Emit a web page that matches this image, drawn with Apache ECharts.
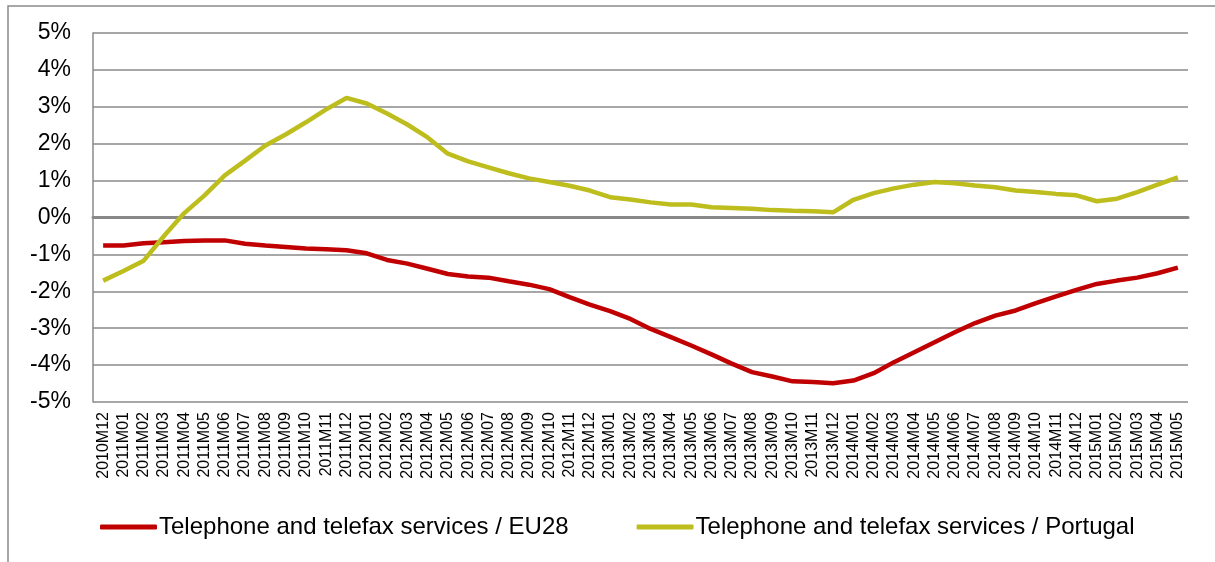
<!DOCTYPE html>
<html>
<head>
<meta charset="utf-8">
<script src="https://cdn.jsdelivr.net/npm/echarts@6/dist/echarts.min.js"></script>
<style>html,body{margin:0;padding:0;background:#fff}#c{width:1215px;height:562px}</style>
</head>
<body>
<div id="c"></div>
<script>
const categories = ["2010M12","2011M01","2011M02","2011M03","2011M04","2011M05","2011M06","2011M07","2011M08","2011M09","2011M10","2011M11","2011M12","2012M01","2012M02","2012M03","2012M04","2012M05","2012M06","2012M07","2012M08","2012M09","2012M10","2012M11","2012M12","2013M01","2013M02","2013M03","2013M04","2013M05","2013M06","2013M07","2013M08","2013M09","2013M10","2013M11","2013M12","2014M01","2014M02","2014M03","2014M04","2014M05","2014M06","2014M07","2014M08","2014M09","2014M10","2014M11","2014M12","2015M01","2015M02","2015M03","2015M04","2015M05"];
const eu28 = [-0.76,-0.76,-0.70,-0.67,-0.64,-0.62,-0.62,-0.71,-0.76,-0.80,-0.84,-0.86,-0.89,-0.97,-1.15,-1.25,-1.39,-1.53,-1.60,-1.63,-1.73,-1.82,-1.94,-2.16,-2.36,-2.54,-2.75,-3.02,-3.24,-3.47,-3.71,-3.96,-4.19,-4.31,-4.44,-4.46,-4.49,-4.42,-4.22,-3.92,-3.65,-3.38,-3.11,-2.86,-2.66,-2.52,-2.32,-2.14,-1.96,-1.80,-1.71,-1.63,-1.51,-1.36];
const portugal = [-1.71,-1.45,-1.17,-0.50,0.12,0.60,1.14,1.54,1.95,2.25,2.58,2.93,3.24,3.09,2.82,2.52,2.17,1.73,1.52,1.36,1.20,1.06,0.96,0.86,0.73,0.55,0.49,0.41,0.35,0.35,0.28,0.26,0.24,0.20,0.18,0.17,0.14,0.48,0.66,0.79,0.89,0.96,0.93,0.87,0.82,0.73,0.69,0.64,0.60,0.44,0.51,0.69,0.89,1.09];
const seriesNames = ["Telephone and telefax services / EU28","Telephone and telefax services / Portugal"];
const yTicks = {min:-5, max:5, interval:1};

const FONT = '"Liberation Sans", Arial, sans-serif';
const chart = echarts.init(document.getElementById('c'));
chart.setOption({
  animation: false,
  backgroundColor: '#fff',
  textStyle: {fontFamily: FONT, color: '#000'},
  graphic: [{
    type: 'rect', silent: true, z: -10,
    shape: {x: 8, y: 6, width: 1230, height: 600},
    style: {fill: null, stroke: '#8a8a8a', lineWidth: 1.5}
  }],
  grid: {left: 93, right: 27, top: 33, bottom: 160, containLabel: false},
  legend: {
    left: 95, top: 510,
    itemWidth: 57, itemHeight: 5, itemGap: 68,
    icon: 'roundRect',
    textStyle: {fontFamily: FONT, fontSize: 24, color: '#000', padding: [0,0,0,-3]},
    data: seriesNames
  },
  xAxis: [{
    type: 'category', data: categories, boundaryGap: true,
    axisLine: {show: false, onZero: false},
    axisTick: {show: false},
    axisLabel: {interval: 0, rotate: 90, fontSize: 16, margin: 10, color: '#000', fontFamily: FONT},
    splitLine: {show: false}
  },{
    type: 'category', data: categories, boundaryGap: true, position: 'bottom',
    axisLine: {show: true, onZero: true, lineStyle: {color: '#888', width: 3}},
    axisTick: {show: false}, axisLabel: {show: false}, splitLine: {show: false}
  }],
  yAxis: {
    type: 'value', min: yTicks.min, max: yTicks.max, interval: yTicks.interval,
    axisLine: {show: true, lineStyle: {color: '#8a8a8a', width: 1.5}},
    axisTick: {show: false},
    axisLabel: {formatter: '{value}%', fontSize: 23, margin: 22, color: '#000', fontFamily: FONT},
    splitLine: {show: true, lineStyle: {color: '#8a8a8a', width: 1.5}}
  },
  series: [{
    name: seriesNames[0], type: 'line', data: eu28, xAxisIndex: 0,
    showSymbol: false, symbol: 'none',
    lineStyle: {color: '#C00000', width: 4.5}, itemStyle: {color: '#C00000'}
  },{
    name: seriesNames[1], type: 'line', data: portugal, xAxisIndex: 0,
    showSymbol: false, symbol: 'none',
    lineStyle: {color: '#BDBD1D', width: 4.5}, itemStyle: {color: '#BDBD1D'}
  }]
});
</script>
</body>
</html>
